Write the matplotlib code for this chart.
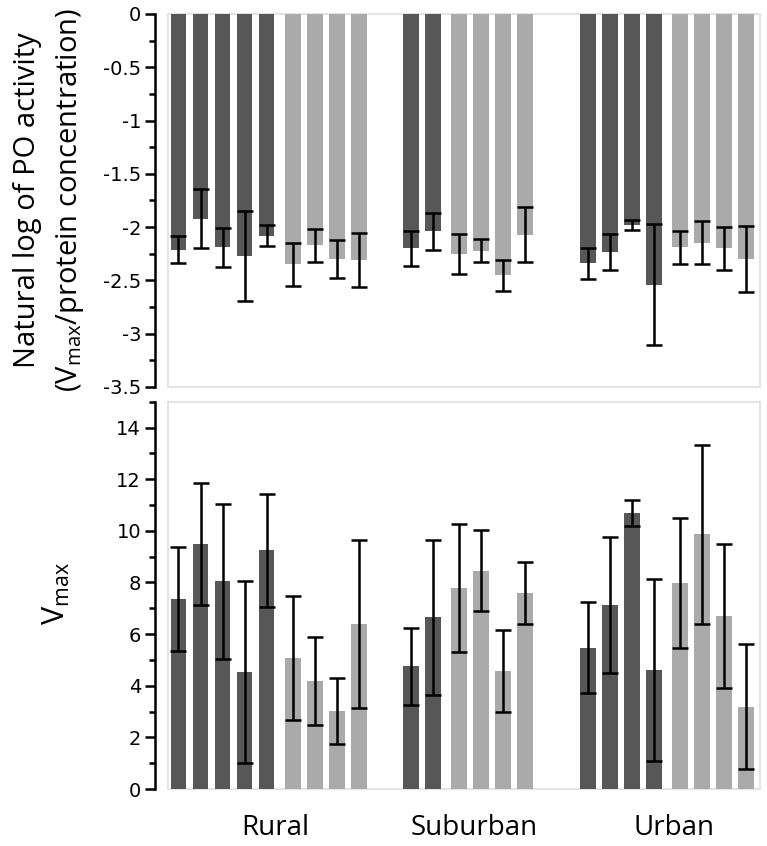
import matplotlib
matplotlib.use("Agg")
import matplotlib.pyplot as plt
from matplotlib.ticker import MultipleLocator
from matplotlib.patches import Rectangle
import numpy as np

# ---------------- data ----------------
sites = ["Rural", "Suburban", "Urban"]
n_dark = [5, 2, 4]
n_light = [4, 4, 4]

# Natural log of PO activity (Vmax / protein concentration)
log_po = [-2.21, -1.92, -2.19, -2.27, -2.08, -2.35, -2.17, -2.30, -2.31,
          -2.20, -2.04, -2.25, -2.22, -2.45, -2.07,
          -2.34, -2.23, -1.98, -2.54, -2.19, -2.145, -2.20, -2.30]
log_po_err = [0.125, 0.28, 0.18, 0.425, 0.10, 0.20, 0.155, 0.18, 0.255,
              0.16, 0.17, 0.19, 0.105, 0.145, 0.255,
              0.145, 0.17, 0.045, 0.57, 0.155, 0.20, 0.20, 0.31]

# Vmax
vmax = [7.36, 9.48, 8.04, 4.52, 9.24, 5.07, 4.18, 3.03, 6.39,
        4.76, 6.65, 7.78, 8.46, 4.57, 7.59,
        5.47, 7.14, 10.70, 4.62, 7.98, 9.86, 6.70, 3.19]
vmax_err = [2.0, 2.37, 3.01, 3.52, 2.18, 2.40, 1.70, 1.28, 3.27,
            1.49, 3.01, 2.48, 1.57, 1.60, 1.19,
            1.76, 2.63, 0.50, 3.52, 2.52, 3.47, 2.80, 2.43]

top_ticks = [-3.5, -3, -2.5, -2, -1.5, -1, -0.5, 0]
bottom_ticks = [0, 2, 4, 6, 8, 10, 12, 14]

dark_color = "#575757"
light_color = "#aaaaaa"

# ---------------- layout ----------------
site_starts = [0.0, 10.55, 18.6]
inner_gap = 1.2
xpos, colors, centers = [], [], []
for s, nd, nl in zip(site_starts, n_dark, n_light):
    d = [s + i for i in range(nd)]
    l0 = d[-1] + inner_gap
    l = [l0 + i for i in range(nl)]
    xpos += d + l
    colors += [dark_color] * nd + [light_color] * nl
    centers.append((d[0] + l[-1]) / 2 + 0.3)
xpos = np.array(xpos)

W, H = 767, 846
fig = plt.figure(figsize=(W / 100, H / 100), dpi=100)

plt.rcParams["mathtext.fontset"] = "custom"
plt.rcParams["mathtext.rm"] = "Open Sans"
plt.rcParams["mathtext.it"] = "Open Sans"

ax_left = 155 / W
ax_w = (762 - 155) / W
ax1 = fig.add_axes([ax_left, 1 - 387 / H, ax_w, (387 - 14) / H])
ax2 = fig.add_axes([ax_left, 1 - 789 / H, ax_w, (789 - 401.7) / H])

xlim = (-1.068, 26.52)
bar_w = 0.72
tick_fs = 14

for ax, vals, errs in [(ax1, log_po, log_po_err), (ax2, vmax, vmax_err)]:
    ax.bar(xpos, vals, width=bar_w, color=colors, edgecolor="none", zorder=2)
    ax.errorbar(xpos, vals, yerr=errs, fmt="none", ecolor="black",
                elinewidth=1.8, capsize=5.5, capthick=1.8, zorder=3)
    ax.set_xlim(*xlim)
    for sp in ["top", "right", "bottom"]:
        ax.spines[sp].set_visible(False)
    ax.spines["left"].set_linewidth(1.8)
    ax.set_xticks([])
    ax.add_patch(Rectangle((0.0214, 0.0), 0.9753, 1.0, transform=ax.transAxes,
                           fill=False, edgecolor="#e4e4e4", lw=1.5,
                           zorder=1, clip_on=False))

ax1.set_ylim(-3.5, 0)
ax1.set_yticks(top_ticks)
ax1.set_yticklabels(["%g" % v for v in top_ticks], fontsize=tick_fs,
                    family="DejaVu Sans")
ax1.yaxis.set_minor_locator(MultipleLocator(0.25))

ax2.set_ylim(0, 15)
ax2.set_yticks(bottom_ticks)
ax2.set_yticklabels(["%g" % v for v in bottom_ticks], fontsize=tick_fs,
                    family="DejaVu Sans")
ax2.yaxis.set_minor_locator(MultipleLocator(1))

for ax in (ax1, ax2):
    ax.tick_params(axis="y", which="major", direction="out", length=7,
                   width=1.8, pad=3)
    ax.tick_params(axis="y", which="minor", direction="out", length=4,
                   width=1.8)

label_font = dict(family=["Open Sans", "DejaVu Sans"], fontsize=21)
fig.text(28 / W, 1 - 200 / H, "Natural log of PO activity", rotation=90,
         ha="center", va="center", **label_font)
fig.text(70 / W, 1 - 200 / H, r"($\mathrm{V_{max}}$/protein concentration)",
         rotation=90, ha="center", va="center", **label_font)
fig.text(56 / W, 1 - 594 / H, r"$\mathrm{V_{max}}$", rotation=90,
         ha="center", va="center", family=["Open Sans", "DejaVu Sans"],
         fontsize=22)

for name, c in zip(sites, centers):
    xf = ax_left + (c - xlim[0]) / (xlim[1] - xlim[0]) * ax_w
    fig.text(xf, 1 - 828 / H, name, ha="center", va="center",
             family=["Open Sans", "DejaVu Sans"], fontsize=20)

fig.savefig("out.png", dpi=100)
